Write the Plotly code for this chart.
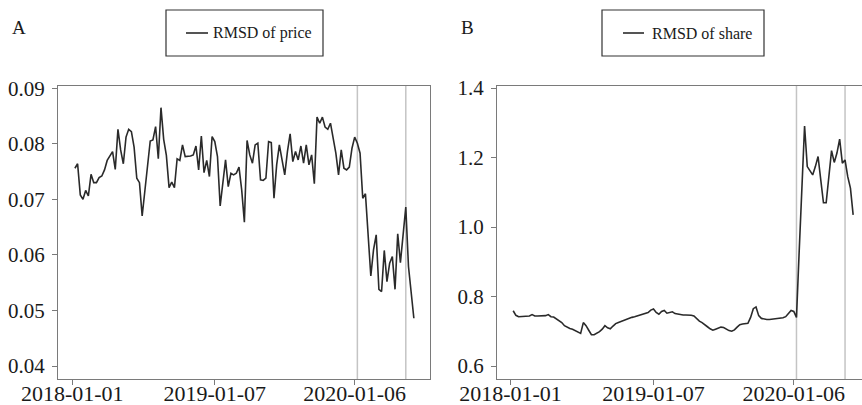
import pandas as pd
import plotly.graph_objects as go

# ---------------- data ----------------
dates = pd.date_range("2018-01-08", periods=127, freq="7D")

rmsd_price = [
    0.0756, 0.0764, 0.0708, 0.0700, 0.0716, 0.0706, 0.0745, 0.0730, 0.0730, 0.0739,
    0.0742, 0.0753, 0.0770, 0.0777, 0.0786, 0.0754, 0.0826, 0.0789, 0.0764, 0.0812,
    0.0826, 0.0822, 0.0794, 0.0738, 0.0730, 0.0670, 0.0717, 0.0762, 0.0805, 0.0807,
    0.0831, 0.0773, 0.0865, 0.0808, 0.0779, 0.0721, 0.0731, 0.0721, 0.0773, 0.0770,
    0.0798, 0.0777, 0.0777, 0.0778, 0.0780, 0.0796, 0.0753, 0.0814, 0.0748, 0.0770,
    0.0741, 0.0813, 0.0804, 0.0777, 0.0688, 0.0735, 0.0771, 0.0723, 0.0747, 0.0744,
    0.0747, 0.0758, 0.0717, 0.0659, 0.0806, 0.0780, 0.0765, 0.0798, 0.0801, 0.0735,
    0.0734, 0.0738, 0.0804, 0.0802, 0.0702, 0.0762, 0.0798, 0.0771, 0.0744, 0.0786,
    0.0818, 0.0768, 0.0786, 0.0771, 0.0796, 0.0765, 0.0798, 0.0762, 0.0780, 0.0728,
    0.0848, 0.0837, 0.0848, 0.0830, 0.0826, 0.0837, 0.0807, 0.0783, 0.0744, 0.0789,
    0.0756, 0.0753, 0.0758, 0.0792, 0.0812, 0.0801, 0.0783, 0.0702, 0.0710, 0.0627,
    0.0562, 0.0609, 0.0636, 0.0538, 0.0534, 0.0608, 0.0552, 0.0585, 0.0597, 0.0538,
    0.0638, 0.0586, 0.0633, 0.0686, 0.0579, 0.0535, 0.0486,
]

rmsd_share = [
    0.759, 0.746, 0.742, 0.742, 0.742, 0.742, 0.744, 0.748, 0.744, 0.744,
    0.744, 0.743, 0.745, 0.748, 0.742, 0.741, 0.735, 0.731, 0.725, 0.716,
    0.711, 0.708, 0.706, 0.702, 0.698, 0.694, 0.725, 0.716, 0.703, 0.690,
    0.690, 0.694, 0.699, 0.706, 0.716, 0.710, 0.707, 0.715, 0.722, 0.725,
    0.728, 0.733, 0.736, 0.739, 0.740, 0.742, 0.744, 0.746, 0.748, 0.752,
    0.754, 0.761, 0.764, 0.754, 0.749, 0.757, 0.760, 0.752, 0.755, 0.756,
    0.751, 0.749, 0.749, 0.747, 0.747, 0.747, 0.746, 0.744, 0.735, 0.729,
    0.725, 0.720, 0.713, 0.707, 0.703, 0.706, 0.710, 0.712, 0.711, 0.706,
    0.702, 0.700, 0.704, 0.712, 0.719, 0.721, 0.723, 0.723, 0.740, 0.765,
    0.770, 0.745, 0.737, 0.735, 0.734, 0.734, 0.735, 0.737, 0.738, 0.737,
    0.739, 0.742, 0.752, 0.760, 0.757, 0.740, 0.930, 1.110, 1.291, 1.174,
    1.160, 1.150, 1.174, 1.203, 1.136, 1.070, 1.070, 1.136, 1.220, 1.186,
    1.213, 1.253, 1.184, 1.193, 1.145, 1.112, 1.035,
]

event_dates = ["2020-01-13", "2020-05-18"]
x_tick_labels = ["2018-01-01", "2019-01-07", "2020-01-06"]
price_ticks = [0.04, 0.05, 0.06, 0.07, 0.08, 0.09]
share_ticks = [0.6, 0.8, 1.0, 1.2, 1.4]
series_names = ["RMSD of price", "RMSD of share"]
panel_labels = ["A", "B"]

# ---------------- figure ----------------
W, H = 862, 405
FONT = "Liberation Serif, Times New Roman, serif"
LINE_COL = "#2a2a2a"
AX_COL = "#7a7a7a"


def px_x(p):
    return p / W


def px_y(p):
    return 1 - p / H


fig = go.Figure()
fig.add_trace(go.Scatter(x=dates, y=rmsd_price, mode="lines", name=series_names[0],
                         line=dict(color=LINE_COL, width=1.6), xaxis="x", yaxis="y",
                         showlegend=False))
fig.add_trace(go.Scatter(x=dates, y=rmsd_share, mode="lines", name=series_names[1],
                         line=dict(color=LINE_COL, width=1.6), xaxis="x2", yaxis="y2",
                         showlegend=False))

ydom = [px_y(379), px_y(86)]
common_x = dict(type="date", tickvals=x_tick_labels, ticktext=x_tick_labels,
                automargin=False, ticklabelstandoff=-10,
                showgrid=False, zeroline=False, showline=True, linecolor=AX_COL,
                linewidth=1, ticks="outside", ticklen=5, tickcolor=AX_COL,
                tickfont=dict(family=FONT, size=22, color="#1a1a1a"))
common_y = dict(showgrid=False, zeroline=False, showline=True, linecolor=AX_COL,
                automargin=False, ticklabelstandoff=3,
                linewidth=1, ticks="outside", ticklen=5, tickcolor=AX_COL,
                tickfont=dict(family=FONT, size=21, color="#1a1a1a"))

fig.update_layout(
    width=W, height=H,
    margin=dict(l=0, r=0, t=0, b=0, pad=0, autoexpand=False),
    paper_bgcolor="white", plot_bgcolor="white",
    font=dict(family=FONT, color="#1a1a1a"),
    xaxis=dict(common_x, domain=[px_x(58), px_x(430)],
               range=["2017-11-25", "2020-07-20"], mirror=True, anchor="y"),
    yaxis=dict(common_y, domain=ydom, range=[0.03766, 0.0904],
               tickvals=price_ticks, tickformat=".2f", mirror=True, anchor="x"),
    xaxis2=dict(common_x, domain=[px_x(497), 1.0],
                range=["2017-11-27", "2020-07-01"], mirror=True, anchor="y2"),
    yaxis2=dict(common_y, domain=ydom, range=[0.5626, 1.406],
                tickvals=share_ticks, tickformat=".1f", mirror=False, anchor="x2"),
)

# event lines
for xa, ya in (("x", "y"), ("x2", "y2")):
    for d in event_dates:
        fig.add_shape(type="line", xref=xa, yref=f"{ya} domain", x0=d, x1=d, y0=0, y1=1,
                      line=dict(color="#c4c4c4", width=1.5), layer="below")

# legend boxes (drawn) and panel labels
legend_specs = [
    dict(box=(166, 10, 323, 56), line=(186, 208), text_x=211),
    dict(box=(602, 10, 764, 56), line=(623, 644), text_x=650),
]
for spec, name in zip(legend_specs, series_names):
    x0, y0, x1, y1 = spec["box"]
    fig.add_shape(type="rect", xref="paper", yref="paper",
                  x0=px_x(x0), x1=px_x(x1), y0=px_y(y1), y1=px_y(y0),
                  line=dict(color="#333333", width=1.2), fillcolor="white")
    lx0, lx1 = spec["line"]
    fig.add_shape(type="line", xref="paper", yref="paper",
                  x0=px_x(lx0), x1=px_x(lx1), y0=px_y(33), y1=px_y(33),
                  line=dict(color=LINE_COL, width=1.6))
    fig.add_annotation(text=name, xref="paper", yref="paper", x=px_x(spec["text_x"]),
                       y=px_y(33), xanchor="left", yanchor="middle", showarrow=False,
                       font=dict(family=FONT, size=16, color="#1a1a1a"))

for lab, xp in zip(panel_labels, (19, 467)):
    fig.add_annotation(text=lab, xref="paper", yref="paper", x=px_x(xp), y=px_y(28),
                       xanchor="center", yanchor="middle", showarrow=False,
                       font=dict(family=FONT, size=19, color="#1a1a1a"))

fig.write_html("out.html")
